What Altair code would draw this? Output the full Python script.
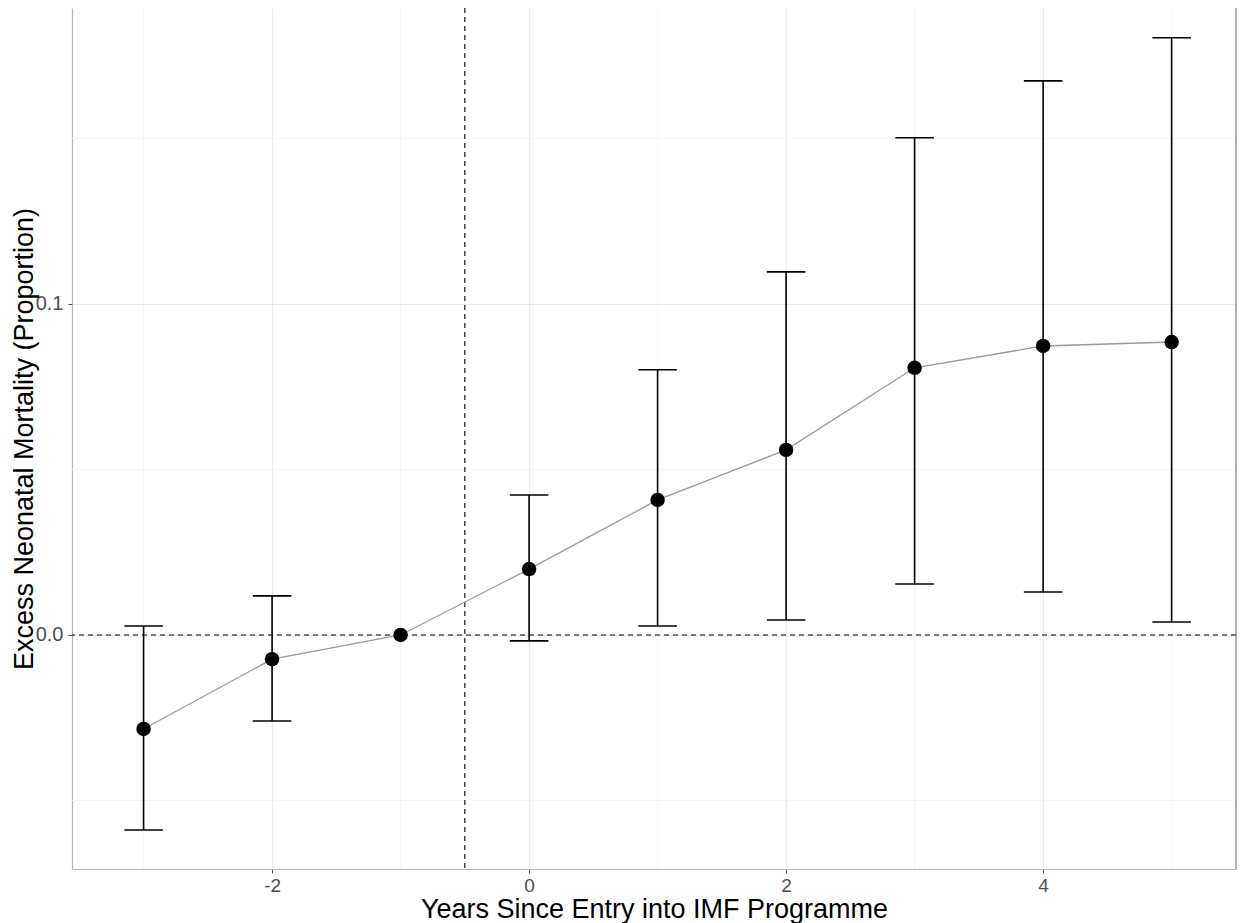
import altair as alt
import pandas as pd

years = [-3, -2, -1, 0, 1, 2, 3, 4, 5]
estimate = [-0.0284, -0.0073, 0.0, 0.0199, 0.0408, 0.0559, 0.0807, 0.0873, 0.0885]
lower = [-0.0589, -0.0260, 0.0, -0.0018, 0.0027, 0.0045, 0.0154, 0.0130, 0.0039]
upper = [0.0027, 0.0118, 0.0, 0.0423, 0.0801, 0.1097, 0.1502, 0.1674, 0.1804]
has_ci = [True, True, False, True, True, True, True, True, True]

x_major = [-2, 0, 2, 4]
x_minor = [-3, -1, 1, 3, 5]
y_major = [0.0, 0.1]
y_minor = [-0.05, 0.05, 0.15]

x_dom = [-3.557, 5.501]
y_dom = [-0.0707, 0.1894]

W, H = 1164, 861

df = pd.DataFrame({"year": years, "est": estimate, "lo": lower, "hi": upper, "ci": has_ci})
ci_df = df[df["ci"]].copy()

xs = alt.Scale(domain=x_dom, nice=False, zero=False)
ys = alt.Scale(domain=y_dom, nice=False, zero=False)

xaxis = alt.Axis(values=x_major, labelExpr="toString(datum.value)", grid=True, gridColor="#EBEBEB", gridWidth=1.2,
                 domain=True, domainColor="#B3B3B3", domainWidth=1.2,
                 ticks=True, tickColor="#4D4D4D", tickSize=4, tickWidth=1,
                 labelFont="Liberation Sans", labelFontSize=19, labelColor="#4D4D4D", labelPadding=3,
                 title="Years Since Entry into IMF Programme", titleFont="Liberation Sans",
                 titleFontSize=27, titleFontWeight="normal", titleColor="#000000",
                 titleBaseline="alphabetic", titleY=48)
yaxis = alt.Axis(values=y_major, format=".1f", grid=True, gridColor="#EBEBEB", gridWidth=1.2,
                 domain=True, domainColor="#B3B3B3", domainWidth=1.2,
                 ticks=True, tickColor="#4D4D4D", tickSize=4, tickWidth=1,
                 labelFont="Liberation Sans", labelFontSize=20, labelColor="#4D4D4D", labelPadding=5,
                 title="Excess Neonatal Mortality (Proportion)", titleFont="Liberation Sans",
                 titleFontSize=27, titleFontWeight="normal", titleColor="#000000",
                 titleBaseline="middle", titleX=-48)

base = alt.Chart(df)

xmin_df = pd.DataFrame({"v": x_minor})
ymin_df = pd.DataFrame({"v": y_minor})

grid_x_minor = alt.Chart(xmin_df).mark_rule(color="#F3F3F3", strokeWidth=0.8).encode(
    x=alt.X("v:Q", scale=xs, axis=xaxis))
grid_y_minor = alt.Chart(ymin_df).mark_rule(color="#F3F3F3", strokeWidth=0.8).encode(
    y=alt.Y("v:Q", scale=ys, axis=yaxis))

right_border = alt.Chart(xmin_df).mark_rule(color="#B3B3B3", strokeWidth=1.2).encode(
    x=alt.value(W), y=alt.value(0), y2=alt.value(H))

hline = alt.Chart(pd.DataFrame({"v": [0.0]})).mark_rule(color="#000000", strokeWidth=1.1, strokeDash=[5, 4]).encode(
    y=alt.Y("v:Q", scale=ys))
vline = alt.Chart(pd.DataFrame({"v": [-0.5]})).mark_rule(color="#000000", strokeWidth=1.1, strokeDash=[5, 4]).encode(
    x=alt.X("v:Q", scale=xs))

line = base.mark_line(color="#999999", strokeWidth=1.3).encode(
    x=alt.X("year:Q", scale=xs), y=alt.Y("est:Q", scale=ys))

bars = alt.Chart(ci_df).mark_rule(color="#000000", strokeWidth=1.6).encode(
    x=alt.X("year:Q", scale=xs), y=alt.Y("lo:Q", scale=ys), y2="hi:Q")

caps_lo = alt.Chart(ci_df).transform_calculate(a="datum.year - 0.15", b="datum.year + 0.15").mark_rule(
    color="#000000", strokeWidth=1.6).encode(
    x=alt.X("a:Q", scale=xs), x2="b:Q", y=alt.Y("lo:Q", scale=ys))
caps_hi = alt.Chart(ci_df).transform_calculate(a="datum.year - 0.15", b="datum.year + 0.15").mark_rule(
    color="#000000", strokeWidth=1.6).encode(
    x=alt.X("a:Q", scale=xs), x2="b:Q", y=alt.Y("hi:Q", scale=ys))

points = base.mark_circle(color="#000000", opacity=1, size=210).encode(
    x=alt.X("year:Q", scale=xs), y=alt.Y("est:Q", scale=ys))

chart = alt.layer(
    grid_x_minor, grid_y_minor, right_border, hline, vline, line, bars, caps_lo, caps_hi, points
).properties(
    width=W, height=H,
    autosize=alt.AutoSizeParams(type="none"),
    padding={"left": 64, "top": 0, "right": 1, "bottom": 54},
    background="#FFFFFF",
).configure_view(stroke=None)

chart.save("out.html", embed_options={"renderer": "svg", "actions": False})
